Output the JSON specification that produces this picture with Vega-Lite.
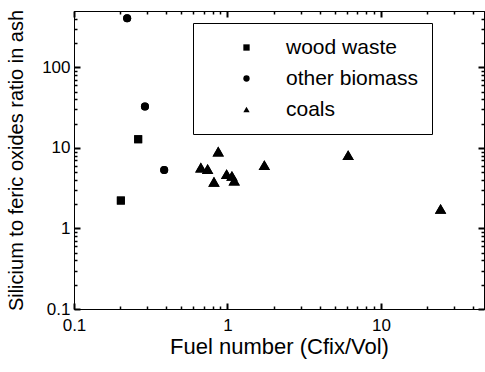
{
  "$schema": "https://vega.github.io/schema/vega-lite/v6.json",
  "width": 410,
  "height": 298,
  "autosize": {"type": "none"},
  "padding": {"left": 74, "top": 11, "right": 1, "bottom": 63},
  "config": {
    "view": {"stroke": "black", "strokeWidth": 1},
    "font": "Liberation Sans",
    "axis": {
      "grid": false,
      "labelColor": "black",
      "titleColor": "black",
      "labelFont": "Liberation Sans",
      "titleFont": "Liberation Sans",
      "titleFontWeight": "normal",
      "labelFontSize": 17,
      "titleFontSize": 20,
      "labelOverlap": false,
      "labelFlush": false
    },
    "legend": {
      "orient": "none",
      "legendX": 119,
      "legendY": 12,
      "strokeColor": "black",
      "padding": 14,
      "labelFont": "Liberation Sans",
      "labelFontSize": 21,
      "labelColor": "black",
      "symbolSize": 40,
      "symbolFillColor": "black",
      "symbolStrokeColor": "black",
      "rowPadding": 9,
      "symbolOffset": 29,
      "labelOffset": 29
    }
  },
  "data": {
    "values": [
      {"fuel": 0.202, "ratio": 2.22, "type": "wood waste"},
      {"fuel": 0.262, "ratio": 12.8, "type": "wood waste"},
      {"fuel": 0.222, "ratio": 406, "type": "other biomass"},
      {"fuel": 0.29, "ratio": 32.7, "type": "other biomass"},
      {"fuel": 0.387, "ratio": 5.3, "type": "other biomass"},
      {"fuel": 0.671, "ratio": 5.71, "type": "coals"},
      {"fuel": 0.743, "ratio": 5.46, "type": "coals"},
      {"fuel": 0.871, "ratio": 9.0, "type": "coals"},
      {"fuel": 0.817, "ratio": 3.8, "type": "coals"},
      {"fuel": 0.988, "ratio": 4.73, "type": "coals"},
      {"fuel": 1.07, "ratio": 4.5, "type": "coals"},
      {"fuel": 1.107, "ratio": 3.92, "type": "coals"},
      {"fuel": 1.74, "ratio": 6.1, "type": "coals"},
      {"fuel": 6.12, "ratio": 8.13, "type": "coals"},
      {"fuel": 24.5, "ratio": 1.75, "type": "coals"}
    ]
  },
  "layer": [
    {
      "transform": [{"filter": "datum.type !== 'coals'"}],
      "mark": {"type": "point", "filled": true, "opacity": 1, "color": "black", "size": 64},
      "encoding": {
        "x": {
          "field": "fuel", "type": "quantitative",
          "scale": {"type": "log", "domain": [0.1, 47], "nice": false},
          "axis": {"orient": "bottom", "values": [0.1, 1, 10], "format": "~g", "ticks": true, "tickColor": "black", "tickWidth": 2, "tickSize": -6, "domain": true, "domainColor": "black", "domainWidth": 1, "labelPadding": 14, "title": "Fuel number (Cfix/Vol)", "titleFontSize": 22, "titlePadding": 3}
        },
        "y": {
          "field": "ratio", "type": "quantitative",
          "scale": {"type": "log", "domain": [0.1, 500], "nice": false},
          "axis": {"orient": "left", "values": [0.1, 1, 10, 100], "format": "~g", "ticks": true, "tickColor": "black", "tickWidth": 2, "tickSize": -6, "domain": true, "domainColor": "black", "domainWidth": 1, "labelPadding": 10, "title": "Silicium to feric oxides ratio in ash", "titlePadding": 15}
        },
        "shape": {
          "field": "type", "type": "nominal",
          "scale": {"domain": ["wood waste", "other biomass", "coals"], "range": ["square", "circle", "triangle-up"]},
          "legend": {"title": null}
        }
      }
    },
    {
      "transform": [{"filter": "datum.type === 'coals'"}],
      "mark": {"type": "point", "filled": true, "opacity": 1, "color": "black", "size": 130},
      "encoding": {
        "x": {"field": "fuel", "type": "quantitative", "scale": {"type": "log", "domain": [0.1, 47], "nice": false}, "axis": {"orient": "top", "values": [0.1, 1, 10], "labels": false, "title": null, "ticks": true, "tickColor": "black", "tickWidth": 2, "tickSize": -6, "domain": true, "domainColor": "black", "domainWidth": 1}},
        "y": {"field": "ratio", "type": "quantitative", "scale": {"type": "log", "domain": [0.1, 500], "nice": false}, "axis": {"orient": "right", "values": [0.1, 1, 10, 100], "labels": false, "title": null, "ticks": true, "tickColor": "black", "tickWidth": 2, "tickSize": -6, "domain": true, "domainColor": "black", "domainWidth": 1}},
        "shape": {
          "field": "type", "type": "nominal",
          "scale": {"domain": ["wood waste", "other biomass", "coals"], "range": ["square", "circle", "triangle-up"]},
          "legend": {"title": null}
        }
      }
    },
    {
      "transform": [{"filter": "datum.type !== 'coals'"}],
      "mark": {"type": "point", "filled": true, "opacity": 1, "color": "black", "size": 64},
      "encoding": {
        "x": {"field": "fuel", "type": "quantitative", "scale": {"type": "log", "domain": [0.1, 47], "nice": false}, "axis": {"orient": "bottom", "values": [0.2, 0.3, 0.4, 0.5, 0.6, 0.7, 0.8, 0.9, 2, 3, 4, 5, 6, 7, 8, 9, 20, 30, 40], "labels": false, "title": null, "domain": false, "ticks": true, "tickColor": "black", "tickWidth": 1.5, "tickSize": -3}},
        "y": {"field": "ratio", "type": "quantitative", "scale": {"type": "log", "domain": [0.1, 500], "nice": false}, "axis": {"orient": "left", "values": [0.2, 0.3, 0.4, 0.5, 0.6, 0.7, 0.8, 0.9, 2, 3, 4, 5, 6, 7, 8, 9, 20, 30, 40, 50, 60, 70, 80, 90, 200, 300, 400], "labels": false, "title": null, "domain": false, "ticks": true, "tickColor": "black", "tickWidth": 1.5, "tickSize": -3}},
        "shape": {
          "field": "type", "type": "nominal",
          "scale": {"domain": ["wood waste", "other biomass", "coals"], "range": ["square", "circle", "triangle-up"]},
          "legend": {"title": null}
        }
      }
    },
    {
      "transform": [{"filter": "datum.type === 'coals'"}],
      "mark": {"type": "point", "filled": true, "opacity": 1, "color": "black", "size": 130},
      "encoding": {
        "x": {"field": "fuel", "type": "quantitative", "scale": {"type": "log", "domain": [0.1, 47], "nice": false}, "axis": {"orient": "top", "values": [0.2, 0.3, 0.4, 0.5, 0.6, 0.7, 0.8, 0.9, 2, 3, 4, 5, 6, 7, 8, 9, 20, 30, 40], "labels": false, "title": null, "domain": false, "ticks": true, "tickColor": "black", "tickWidth": 1.5, "tickSize": -3}},
        "y": {"field": "ratio", "type": "quantitative", "scale": {"type": "log", "domain": [0.1, 500], "nice": false}, "axis": {"orient": "right", "values": [0.2, 0.3, 0.4, 0.5, 0.6, 0.7, 0.8, 0.9, 2, 3, 4, 5, 6, 7, 8, 9, 20, 30, 40, 50, 60, 70, 80, 90, 200, 300, 400], "labels": false, "title": null, "domain": false, "ticks": true, "tickColor": "black", "tickWidth": 1.5, "tickSize": -3}},
        "shape": {
          "field": "type", "type": "nominal",
          "scale": {"domain": ["wood waste", "other biomass", "coals"], "range": ["square", "circle", "triangle-up"]},
          "legend": {"title": null}
        }
      }
    }
  ],
  "resolve": {"axis": {"x": "independent", "y": "independent"}}
}
